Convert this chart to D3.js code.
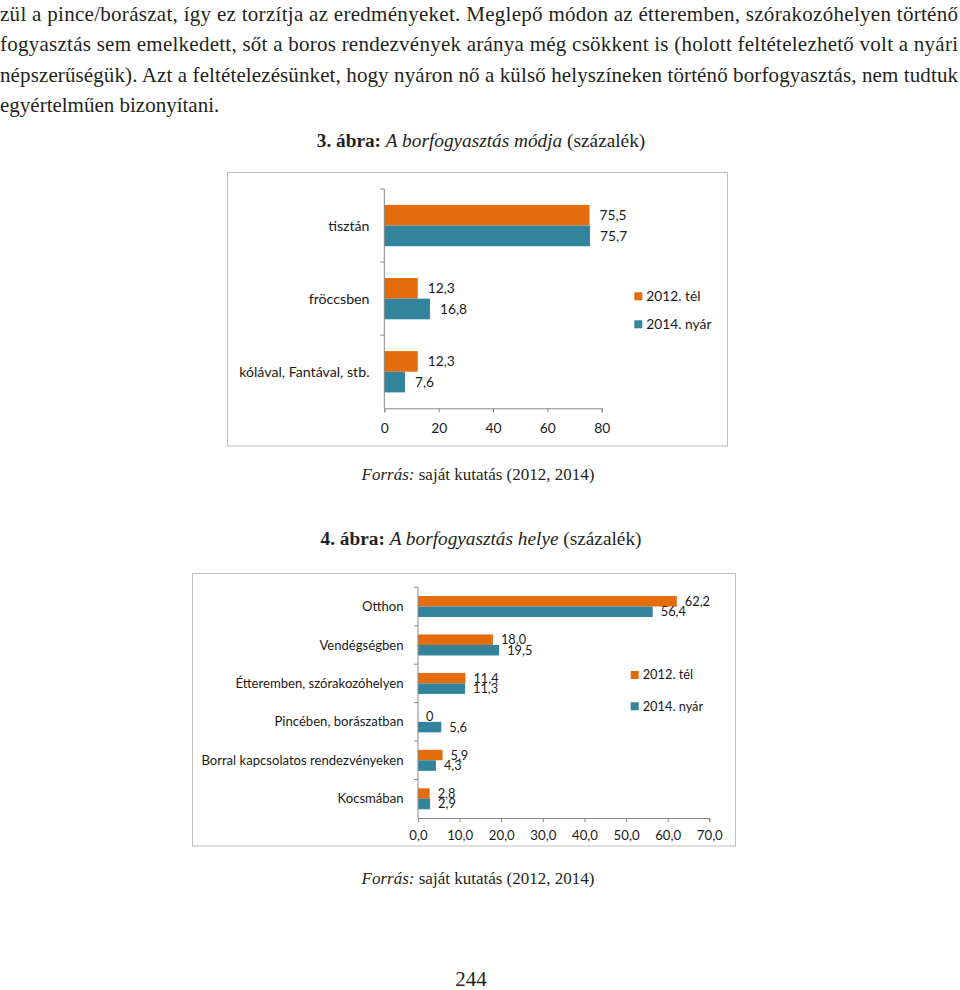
<!DOCTYPE html>
<html><head><meta charset="utf-8">
<script src="https://cdn.jsdelivr.net/npm/d3@7"></script>
<style>
html,body{margin:0;padding:0;background:#fff;}
svg{display:block;}
</style>
</head><body>
<script>
// ---------- data ----------
const seriesNames = ["2012. tél", "2014. nyár"];
const seriesColors = ["#E46C0A", "#31849B"];

const cats1 = ["tisztán", "fröccsben", "kólával, Fantával, stb."];
const tel2012_fig3 = [75.5, 12.3, 12.3];
const nyar2014_fig3 = [75.7, 16.8, 7.6];
const ticks_fig3 = [0, 20, 40, 60, 80];

const cats2 = ["Otthon", "Vendégségben", "Étteremben, szórakozóhelyen", "Pincében, borászatban", "Borral kapcsolatos rendezvényeken", "Kocsmában"];
const tel2012_fig4 = [62.2, 18.0, 11.4, 0, 5.9, 2.8];
const nyar2014_fig4 = [56.4, 19.5, 11.3, 5.6, 4.3, 2.9];
const ticks_fig4 = [0, 10, 20, 30, 40, 50, 60, 70];

const bodyLines = [
  "zül a pince/borászat, így ez torzítja az eredményeket. Meglepő módon az étteremben, szórakozóhelyen történő",
  "fogyasztás sem emelkedett, sőt a boros rendezvények aránya még csökkent is (holott feltételezhető volt a nyári",
  "népszerűségük). Azt a feltételezésünket, hogy nyáron nő a külső helyszíneken történő borfogyasztás, nem tudtuk",
  "egyértelműen bizonyítani."
];

// ---------- page ----------
const W = 960, H = 990;
const svg = d3.select("body").append("svg").attr("width", W).attr("height", H);
const SERIF = "'Liberation Serif', 'Times New Roman', serif";
const SANS = "Lato, 'Open Sans', sans-serif";

// body text
bodyLines.forEach((t, i) => {
  const tx = svg.append("text")
    .attr("x", 0).attr("y", 20.5 + i * 30.6)
    .attr("font-family", SERIF).attr("font-size", 21).attr("fill", "#231f20")
    .text(t);
  if (i < 3) tx.attr("textLength", 958).attr("lengthAdjust", "spacing");
});

function caption(y, num, title) {
  const t = svg.append("text").attr("x", 481).attr("y", y).attr("text-anchor", "middle")
    .attr("font-family", SERIF).attr("font-size", 19.3).attr("fill", "#231f20");
  t.append("tspan").attr("font-weight", "bold").text(num + " ábra: ");
  t.append("tspan").attr("font-style", "italic").text(title);
  t.append("tspan").text(" (százalék)");
}
function source(y) {
  const t = svg.append("text").attr("x", 478).attr("y", y).attr("text-anchor", "middle")
    .attr("font-family", SERIF).attr("font-size", 17).attr("fill", "#231f20");
  t.append("tspan").attr("font-style", "italic").text("Forrás:");
  t.append("tspan").text(" saját kutatás (2012, 2014)");
}

caption(147, "3.", "A borfogyasztás módja");
source(480);
caption(545, "4.", "A borfogyasztás helye");
source(884);
svg.append("text").attr("x", 471).attr("y", 986).attr("text-anchor", "middle")
  .attr("font-family", SERIF).attr("font-size", 21).attr("fill", "#231f20").text("244");

// ---------- chart function ----------
function barChart(o) {
  const g = svg.append("g");
  g.append("rect").attr("x", o.frame[0]).attr("y", o.frame[1]).attr("width", o.frame[2]).attr("height", o.frame[3])
    .attr("fill", "#fff").attr("stroke", "#bfbfbf").attr("stroke-width", 1);

  const x = d3.scaleLinear().domain(o.xDomain).range(o.xRange);
  const y = d3.scaleBand().domain(o.cats).range(o.yRange).padding(0);
  const groupH = y.bandwidth() * o.groupFrac;
  const ys = d3.scaleBand().domain([0, 1]).range([0, groupH]);
  const fmt = o.fmt;

  const rows = o.cats.map((c, i) => ({ c, vals: [o.s1[i], o.s2[i]] }));
  const rg = g.selectAll("g.row").data(rows).join("g")
    .attr("transform", d => `translate(0,${y(d.c) + (y.bandwidth() - groupH) / 2})`);
  rg.selectAll("rect").data(d => d.vals.map((v, k) => ({ v, k }))).join("rect")
    .attr("x", x(0)).attr("y", d => ys(d.k))
    .attr("width", d => x(d.v) - x(0)).attr("height", ys.bandwidth())
    .attr("fill", d => seriesColors[d.k]);
  rg.selectAll("text").data(d => d.vals.map((v, k) => ({ v, k }))).join("text")
    .attr("x", d => x(d.v) + o.labelOff).attr("y", d => ys(d.k) + ys.bandwidth() / 2)
    .attr("dy", "0.35em")
    .attr("font-family", SANS).attr("font-size", o.valueFs).attr("fill", "#1a1a1a")
    .text(d => fmt(d.v));

  // x axis
  const xa = g.append("g").attr("transform", `translate(0,${o.yRange[1]})`)
    .call(d3.axisBottom(x).tickValues(o.ticks).tickSize(4).tickPadding(o.tickPad).tickFormat(o.tickFmt));
  xa.select(".domain").attr("stroke", "#868686");
  xa.selectAll(".tick line").attr("stroke", "#868686");
  xa.selectAll(".tick text").attr("font-family", SANS).attr("font-size", o.tickFs).attr("fill", "#1a1a1a");

  // y axis (ticks at band boundaries)
  const ya = g.append("g").attr("transform", `translate(${o.xRange[0]},0)`);
  ya.append("line").attr("x1", 0).attr("x2", 0).attr("y1", o.yRange[0]).attr("y2", o.yRange[1]).attr("stroke", "#868686");
  const bounds = o.cats.map(c => y(c));
  ya.selectAll("line.tk").data(bounds).join("line").attr("class", "tk")
    .attr("x1", -4).attr("x2", 0).attr("y1", d => d).attr("y2", d => d).attr("stroke", "#868686");
  ya.selectAll("text").data(o.cats).join("text")
    .attr("x", o.catX - o.xRange[0]).attr("y", d => y(d) + y.bandwidth() / 2).attr("dy", "0.35em")
    .attr("text-anchor", "end").attr("font-family", SANS).attr("font-size", o.catFs).attr("fill", "#1a1a1a")
    .text(d => d);

  // legend
  const lg = g.append("g");
  seriesNames.forEach((n, k) => {
    lg.append("rect").attr("x", o.legend[0]).attr("y", o.legend[1] + k * o.legend[2])
      .attr("width", 8).attr("height", 8).attr("fill", seriesColors[k]);
    lg.append("text").attr("x", o.legend[0] + 12).attr("y", o.legend[1] + 4 + k * o.legend[2]).attr("dy", "0.35em")
      .attr("font-family", SANS).attr("font-size", o.legendFs).attr("fill", "#1a1a1a").text(n);
  });
}

const comma1 = v => v.toFixed(1).replace(".", ",");

barChart({
  frame: [227.5, 172.5, 500, 273.5],
  cats: cats1, s1: tel2012_fig3, s2: nyar2014_fig3,
  xDomain: [0, 80], xRange: [384.3, 601.7], yRange: [189, 408.3],
  groupFrac: 0.565, ticks: ticks_fig3, tickFmt: d => String(d), tickPad: 11,
  fmt: comma1, labelOff: 10, valueFs: 13.8, tickFs: 13.8, catFs: 14.2, legendFs: 13.8,
  catX: 369.5, legend: [634.3, 292.3, 28]
});

barChart({
  frame: [192.5, 573.5, 543, 272.5],
  cats: cats2, s1: tel2012_fig4, s2: nyar2014_fig4,
  xDomain: [0, 70], xRange: [418, 709.3], yRange: [587.3, 818],
  groupFrac: 0.546, ticks: ticks_fig4, tickFmt: d => d.toFixed(1).replace(".", ","), tickPad: 9,
  fmt: v => v === 0 ? "0" : comma1(v), labelOff: 8, valueFs: 12.8, tickFs: 13.2, catFs: 13.1, legendFs: 12.8,
  catX: 403.5, legend: [630.7, 671, 31.3]
});
</script>
</body></html>
